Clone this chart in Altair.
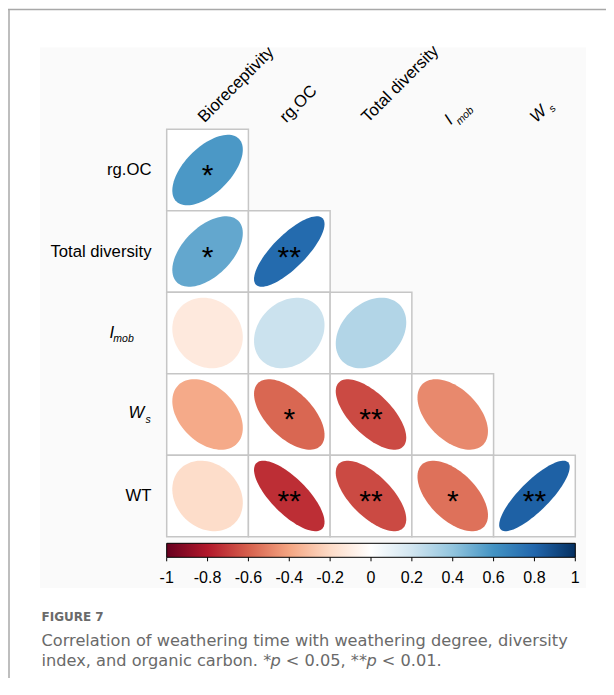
import altair as alt
import numpy as np
import pandas as pd

# ---------------- data ----------------
rows = ["rg.OC", "Total diversity", "Imob", "Ws", "WT"]
cols = ["Bioreceptivity", "rg.OC", "Total diversity", "Imob", "Ws"]

r_rgoc = [0.58]
r_total = [0.52, 0.78]
r_imob = [-0.12, 0.22, 0.30]
r_ws = [-0.38, -0.58, -0.66, -0.48]
r_wt = [-0.19, -0.74, -0.66, -0.55, 0.82]

sig_rgoc = ["*"]
sig_total = ["*", "**"]
sig_imob = ["", "", ""]
sig_ws = ["", "*", "**", ""]
sig_wt = ["", "**", "**", "*", "**"]

colorbar_ticks = [-1, -0.8, -0.6, -0.4, -0.2, 0, 0.2, 0.4, 0.6, 0.8, 1]
colorbar_labels = ["-1", "-0.8", "-0.6", "-0.4", "-0.2", "0", "0.2", "0.4", "0.6", "0.8", "1"]
colorbar_range = [-1, 1]
rdbu = ["#67001F", "#B2182B", "#D6604D", "#F4A582", "#FDDBC7", "#FFFFFF",
        "#D1E5F0", "#92C5DE", "#4393C3", "#2166AC", "#053061"]

caption_title = "FIGURE 7"
caption_line1 = "Correlation of weathering time with weathering degree, diversity"
caption_line2_parts = [("index, and organic carbon. *", False), ("p", True),
                       ("< 0.05, **", False), ("p", True), ("< 0.01.", False)]

# ---------------- helpers ----------------
OX, OY = 166.7, 129.3          # page position of plot origin
W, H = 408.6, 407.4            # grid size


def rx(x):
    return x - OX


def ry(y):
    return y - OY


def ellipse_path(rho, n=90):
    d = np.arccos(rho)
    t = np.linspace(0, 2 * np.pi, n, endpoint=False)
    x = np.cos(t + d / 2)
    y = -np.cos(t - d / 2)
    return "M" + " L".join(f"{a:.4f},{b:.4f}" for a, b in zip(x, y)) + " Z"


all_r = [r_rgoc, r_total, r_imob, r_ws, r_wt]
all_sig = [sig_rgoc, sig_total, sig_imob, sig_ws, sig_wt]
recs = []
for i, rname in enumerate(rows):
    for j, v in enumerate(all_r[i]):
        recs.append({"row": rname, "col": cols[j], "r": v,
                     "sig": all_sig[i][j], "path": ellipse_path(v)})
df = pd.DataFrame(recs)

row_df = pd.DataFrame({"row": rows})
col_df = pd.DataFrame({"col": cols})
cb_df = pd.DataFrame({"lo": [colorbar_range[0]], "hi": [colorbar_range[1]]})
tick_df = pd.DataFrame({"v": colorbar_ticks, "lab": colorbar_labels})
one = pd.DataFrame({"a": [0]})

FONT = "Liberation Sans"
CAP_FONT = "DejaVu Sans"
CAP_COLOR = "#6a6a6a"
CAP_SIZE = 16.2
LAB = 16.7

xs = alt.Scale(domain=cols, paddingInner=0, paddingOuter=0)
ys = alt.Scale(domain=rows, paddingInner=0, paddingOuter=0)
X = alt.X("col:N", scale=xs, axis=None)
Y = alt.Y("row:N", scale=ys, axis=None)

color_scale = alt.Scale(domain=colorbar_ticks, range=rdbu, interpolate="rgb")
cb_scale = alt.Scale(domain=colorbar_range, nice=False, zero=False)

# ---------------- decorations ----------------
card_top = alt.Chart(one).mark_rule(color="#a8a8a8", strokeWidth=1.5).encode(
    x=alt.value(rx(6)), x2=alt.value(rx(614)), y=alt.value(ry(9.5)))
card_left = alt.Chart(one).mark_rule(color="#a8a8a8", strokeWidth=1.5).encode(
    x=alt.value(rx(9)), y=alt.value(ry(9.5)), y2=alt.value(ry(700)))
panel = alt.Chart(one).mark_rect(fill="#fafafa").encode(
    x=alt.value(rx(40)), x2=alt.value(rx(586)),
    y=alt.value(ry(47.5)), y2=alt.value(ry(588)))

# ---------------- grid ----------------
cells = alt.Chart(df).mark_rect(fill="white", stroke="#c6c6c6", strokeWidth=1.5).encode(
    x=X, y=Y)

ellipses = alt.Chart(df).mark_point(filled=True, opacity=1, strokeWidth=0).encode(
    x=X, y=Y,
    shape=alt.Shape("path:N", scale=None),
    color=alt.Color("r:Q", scale=color_scale, legend=None),
    size=alt.value(4970),
)

stars = alt.Chart(df).mark_text(font=FONT, fontSize=30, color="black",
                                baseline="alphabetic", align="center", dy=15).encode(
    x=X, y=Y, text="sig:N")

# ---------------- row labels ----------------
row_plain = alt.Chart(row_df).transform_filter(
    alt.FieldOneOfPredicate(field="row", oneOf=["rg.OC", "Total diversity", "WT"])
).mark_text(font=FONT, fontSize=LAB, align="right", baseline="alphabetic", dy=5,
            color="black").encode(y=Y, x=alt.value(rx(151.5)), text="row:N")

row_imob_main = alt.Chart(row_df).transform_filter(alt.datum.row == "Imob").mark_text(
    font=FONT, fontSize=LAB, fontStyle="italic", align="left", baseline="alphabetic",
    dy=4.5, color="black", text="I").encode(y=Y, x=alt.value(rx(109.5)))
row_imob_sub = alt.Chart(row_df).transform_filter(alt.datum.row == "Imob").mark_text(
    font=FONT, fontSize=10.5, fontStyle="italic", align="left", baseline="alphabetic",
    dy=9.2, color="black", text="mob").encode(y=Y, x=alt.value(rx(113.3)))
row_ws_main = alt.Chart(row_df).transform_filter(alt.datum.row == "Ws").mark_text(
    font=FONT, fontSize=LAB, fontStyle="italic", align="left", baseline="alphabetic",
    dy=3.5, color="black", text="W").encode(y=Y, x=alt.value(rx(128.5)))
row_ws_sub = alt.Chart(row_df).transform_filter(alt.datum.row == "Ws").mark_text(
    font=FONT, fontSize=10.5, fontStyle="italic", align="left", baseline="alphabetic",
    dy=8.3, color="black", text="s").encode(y=Y, x=alt.value(rx(145.5)))

# ---------------- column labels ----------------
col_common = dict(font=FONT, angle=315, align="left", baseline="alphabetic",
                  color="black")
col_plain = alt.Chart(col_df).transform_filter(
    alt.FieldOneOfPredicate(field="col", oneOf=["Bioreceptivity", "rg.OC", "Total diversity"])
).mark_text(fontSize=LAB, xOffset=-3, **col_common).encode(
    x=X, y=alt.value(-6), text="col:N")
col_imob_main = alt.Chart(col_df).transform_filter(alt.datum.col == "Imob").mark_text(
    fontSize=LAB, fontStyle="italic", text="I", xOffset=-2, **col_common).encode(
    x=X, y=alt.value(-4))
col_imob_sub = alt.Chart(col_df).transform_filter(alt.datum.col == "Imob").mark_text(
    fontSize=10.5, fontStyle="italic", text="mob", dx=6.5, dy=6.5, xOffset=-2,
    **col_common).encode(x=X, y=alt.value(-4))
col_ws_main = alt.Chart(col_df).transform_filter(alt.datum.col == "Ws").mark_text(
    fontSize=LAB, fontStyle="italic", text="W", xOffset=2, **col_common).encode(
    x=X, y=alt.value(-6))
col_ws_sub = alt.Chart(col_df).transform_filter(alt.datum.col == "Ws").mark_text(
    fontSize=10.5, fontStyle="italic", text="s", dx=19, dy=4, xOffset=2,
    **col_common).encode(x=X, y=alt.value(-6))

# ---------------- colorbar ----------------
grad = alt.Gradient(
    gradient="linear",
    stops=[alt.GradientStop(color=c, offset=i / (len(rdbu) - 1)) for i, c in enumerate(rdbu)],
    x1=0, x2=1, y1=0, y2=0,
)
cb_rect = alt.Chart(cb_df).mark_rect(fill=grad, stroke="black", strokeWidth=1).encode(
    x=alt.X("lo:Q", scale=cb_scale, axis=None),
    x2="hi:Q",
    y=alt.value(ry(543.3)), y2=alt.value(ry(557.3)),
)
cb_ticks = alt.Chart(tick_df).mark_rule(color="black", strokeWidth=1).encode(
    x=alt.X("v:Q", scale=cb_scale, axis=None),
    y=alt.value(ry(557.3)), y2=alt.value(ry(561.3)),
)
cb_labels = alt.Chart(tick_df).mark_text(
    font=FONT, fontSize=16, color="black", align="center", baseline="alphabetic"
).encode(
    x=alt.X("v:Q", scale=cb_scale, axis=None),
    y=alt.value(ry(583)), text="lab:N",
)
colorbar = alt.layer(cb_rect, cb_ticks, cb_labels)

# ---------------- caption ----------------
# approximate DejaVu Sans advance widths (em) for laying out the mixed-style line
ADV = {" ": .318, "*": .5, ",": .318, ".": .318, "0": .636, "1": .636, "5": .636,
       "<": .838, "a": .613, "b": .635, "c": .55, "d": .635, "e": .615, "g": .635,
       "i": .278, "n": .634, "o": .612, "p": .635, "r": .411, "x": .592}


def text_width(s, size):
    return sum(ADV.get(ch, .6) for ch in s) * size * 0.993


def cap(text, x, y, size=CAP_SIZE, weight="normal", style="normal"):
    return alt.Chart(one).mark_text(
        text=text, font=CAP_FONT, fontSize=size, fontWeight=weight, fontStyle=style,
        color=CAP_COLOR, align="left", baseline="alphabetic"
    ).encode(x=alt.value(rx(x)), y=alt.value(ry(y)))


captions = [
    cap(caption_title, 41.5, 620.7, size=12, weight="bold"),
    cap(caption_line1, 41.5, 646),
]
xpos = 41.5
for k, (seg, ital) in enumerate(caption_line2_parts):
    captions.append(cap(seg, xpos, 666, style="italic" if ital else "normal"))
    xpos += text_width(seg, CAP_SIZE)
    if ital:
        xpos += text_width(" ", CAP_SIZE)

chart = alt.layer(
    card_top, card_left, panel, cells, ellipses, stars,
    row_plain, row_imob_main, row_imob_sub, row_ws_main, row_ws_sub,
    col_plain, col_imob_main, col_imob_sub, col_ws_main, col_ws_sub,
    colorbar, *captions,
).resolve_scale(x="independent").properties(
    width=W, height=H,
    autosize=alt.AutoSizeParams(type="none"),
    padding={"left": OX - 8, "top": OY - 8, "right": 606 - OX - W, "bottom": 670 - (OY - 8) - H},
    background="white",
).configure_view(strokeWidth=0)

chart.save("out.html", embed_options={"renderer": "svg", "actions": False})
